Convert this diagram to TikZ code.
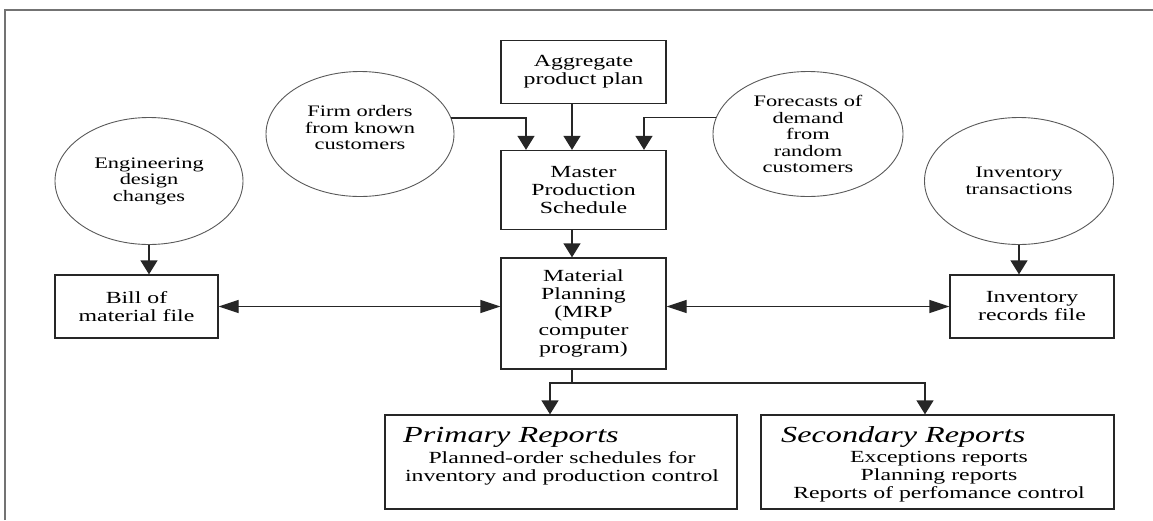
\documentclass[tikz,border=0pt]{standalone}
\usepackage{fontspec}
\setmainfont{Liberation Serif}[FakeStretch=1.4]
\usetikzlibrary{arrows.meta,shapes.geometric,calc}
\begin{document}
\begin{tikzpicture}[x=1pt,y=-1pt,
 box/.style={draw=black!85, line width=1.3pt, inner sep=0pt, align=center, font=\fontsize{17}{18}\selectfont},
 oval/.style={ellipse, draw=black!65, line width=0.9pt, inner sep=0pt, align=center, font=\fontsize{16}{16.5}\selectfont},
 txt/.style={inner sep=0pt, align=center, font=\fontsize{17}{18}\selectfont},
 head/.style={inner sep=0pt, anchor=base west, font=\fontsize{23}{24}\selectfont\itshape},
 ln/.style={draw=black!85, line width=1.3pt},
 va/.style={ln, -{Triangle[width=17pt,length=14pt]}},
 ha/.style={ln, {Triangle[width=13pt,length=20pt]}-{Triangle[width=13pt,length=20pt]}},
]
\useasboundingbox (0,0) rectangle (1153,520);
\draw[black!55, line width=1.5pt] (5,520) -- (5,10) -- (1153,10);

% boxes
\node[box, minimum width=165, minimum height=63] (agg) at (583.5,72) {Aggregate\\product plan};
\node[box, minimum width=165, minimum height=79] (mps) at (583.5,190) {Master\\Production\\Schedule};
\node[box, minimum width=165, minimum height=111] (mp) at (583.5,313.5) {Material\\Planning\\(MRP\\computer\\program)};
\node[box, minimum width=163, minimum height=63] (bom) at (136.5,306.5) {Bill of\\material file};
\node[box, minimum width=164, minimum height=63] (inv) at (1032,306.5) {Inventory\\records file};
\node[box, minimum width=352, minimum height=94] (prim) at (561,462) {};
\node[box, minimum width=353, minimum height=94] (sec) at (937.5,462) {};

% report texts
\node[head] (primh) at (403,442) {Primary Reports};
\node[txt] (primt) at (562,468) {Planned-order schedules for\\inventory and production control};
\node[head] (sech) at (781,442) {Secondary Reports};
\node[txt] (sect) at (939,477) {Exceptions reports\\Planning reports\\Reports of perfomance control};

% ellipses
\node[oval, minimum width=188, minimum height=125] (firm) at (360,134) {};
\node[inner sep=0pt, align=center, font=\fontsize{16}{16.5}\selectfont] (firmt) at (360,128) {Firm orders\\from known\\customers};
\node[oval, minimum width=190, minimum height=125] (fore) at (808,134) {Forecasts of\\demand\\from\\random\\customers};
\node[oval, minimum width=188, minimum height=127] (eng) at (149,181) {Engineering\\design\\changes};
\node[oval, minimum width=189, minimum height=127] (invt) at (1019,181) {Inventory\\transactions};

% connectors into MPS
\draw[va] (firm.10) -| ([xshift=-57.5pt]mps.north);
\draw[va] ([xshift=-11.5pt]agg.south) -- ([xshift=-11.5pt]mps.north);
\draw[va] (fore.170) -| ([xshift=60.5pt]mps.north);
\draw[va] ([xshift=-11.5pt]mps.south) -- ([xshift=-11.5pt]mp.north);

% side inputs
\draw[va] (eng.south) -- (eng.south |- bom.north);
\draw[va] (invt.south) -- (invt.south |- inv.north);

% two-way links
\draw[ha] (bom.east) -- (bom.east -| mp.west);
\draw[ha] (mp.east |- inv.west) -- (inv.west);

% reports
\coordinate (split) at (572,383);
\draw[ln] ([xshift=-11.5pt]mp.south) -- (split);
\draw[va] (split) -| ([xshift=-11pt]prim.north);
\draw[va] (split) -| ([xshift=-12.5pt]sec.north);
\end{tikzpicture}
\end{document}
